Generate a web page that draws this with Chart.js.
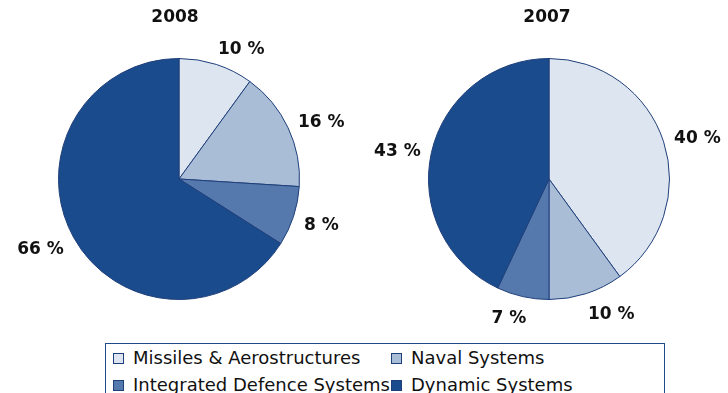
<!DOCTYPE html>
<html>
<head>
<meta charset="utf-8">
<script src="https://cdn.jsdelivr.net/npm/chart.js@4/dist/chart.umd.min.js"></script>
<style>
  body { margin: 0; width: 728px; height: 393px; overflow: hidden; background: #fff; font-family: "DejaVu Sans", sans-serif; }
  .pie { position: absolute; top: 0; }
  #legend { position: absolute; left: 105px; top: 343px; width: 558px; height: 60px; border: 1px solid #1f4a8a; background: #fff; }
  .item { position: absolute; font-size: 18px; color: #111; white-space: nowrap; line-height: 20px; }
  .item span { position: absolute; left: 0; top: 5px; width: 9px; height: 9px; border: 1px solid #1f3f7a; }
  .item b { font-weight: normal; margin-left: 20px; }
</style>
</head>
<body>
<div class="pie" style="left:0"><canvas id="pie2008" width="364" height="340"></canvas></div>
<div class="pie" style="left:364px"><canvas id="pie2007" width="364" height="340"></canvas></div>
<div id="legend"></div>
<script>
const categories = ['Missiles & Aerostructures', 'Naval Systems', 'Integrated Defence Systems', 'Dynamic Systems'];
const colors = ['#dde5f0', '#a9bdd7', '#5679ad', '#1a4b8c'];
const values2008 = [10, 16, 8, 66];
const values2007 = [40, 10, 7, 43];
const labels2008 = ['10 %', '16 %', '8 %', '66 %'];
const labels2007 = ['40 %', '10 %', '7 %', '43 %'];

// draws the year above the pie and the percentage labels outside each slice
const outsideLabels = {
  id: 'outsideLabels',
  afterDraw(chart, args, opts) {
    const ctx = chart.ctx;
    const arcs = chart.getDatasetMeta(0).data;
    ctx.save();
    ctx.fillStyle = '#111';
    ctx.textAlign = 'center';
    ctx.textBaseline = 'middle';
    ctx.font = 'bold 17px "DejaVu Sans"';
    ctx.fillText(opts.title, opts.titleX, 18);
    arcs.forEach((arc, i) => {
      const mid = (arc.startAngle + arc.endAngle) / 2;
      const r = arc.outerRadius + 11;
      const ax = arc.x + Math.cos(mid) * r;
      const ay = arc.y + Math.sin(mid) * r;
      const text = opts.labels[i];
      const w = ctx.measureText(text).width;
      const s = Math.max(-1, Math.min(1, Math.cos(mid) * 3));
      ctx.fillText(text, ax + s * w / 2, ay + Math.sin(mid) * 8 + 3);
    });
    ctx.restore();
  }
};

function makePie(id, values, labels, title, titleX, padL, padR) {
  new Chart(document.getElementById(id), {
    type: 'pie',
    data: {
      labels: categories,
      datasets: [{
        data: values,
        backgroundColor: colors,
        borderColor: '#1f3f7a',
        borderWidth: 1,
        hoverOffset: 0
      }]
    },
    options: {
      responsive: false,
      animation: false,
      layout: { padding: { left: padL, right: padR, top: 58, bottom: 40 } },
      plugins: {
        legend: { display: false },
        tooltip: { enabled: false },
        outsideLabels: { labels: labels, title: title, titleX: titleX }
      }
    },
    plugins: [outsideLabels]
  });
}

makePie('pie2008', values2008, labels2008, '2008', 175, 58, 64);
makePie('pie2007', values2007, labels2007, '2007', 183, 64, 58);

// legend in two columns, like the reference
const legend = document.getElementById('legend');
const spots = [[7, 4], [285, 4], [7, 31], [285, 31]];
categories.forEach((c, i) => {
  const d = document.createElement('div');
  d.className = 'item';
  d.style.left = spots[i][0] + 'px';
  d.style.top = spots[i][1] + 'px';
  d.innerHTML = '<b>' + c.replace('&', '&amp;') + '</b><span style="background:' + colors[i] + '"></span>';
  legend.appendChild(d);
});
</script>
</body>
</html>
